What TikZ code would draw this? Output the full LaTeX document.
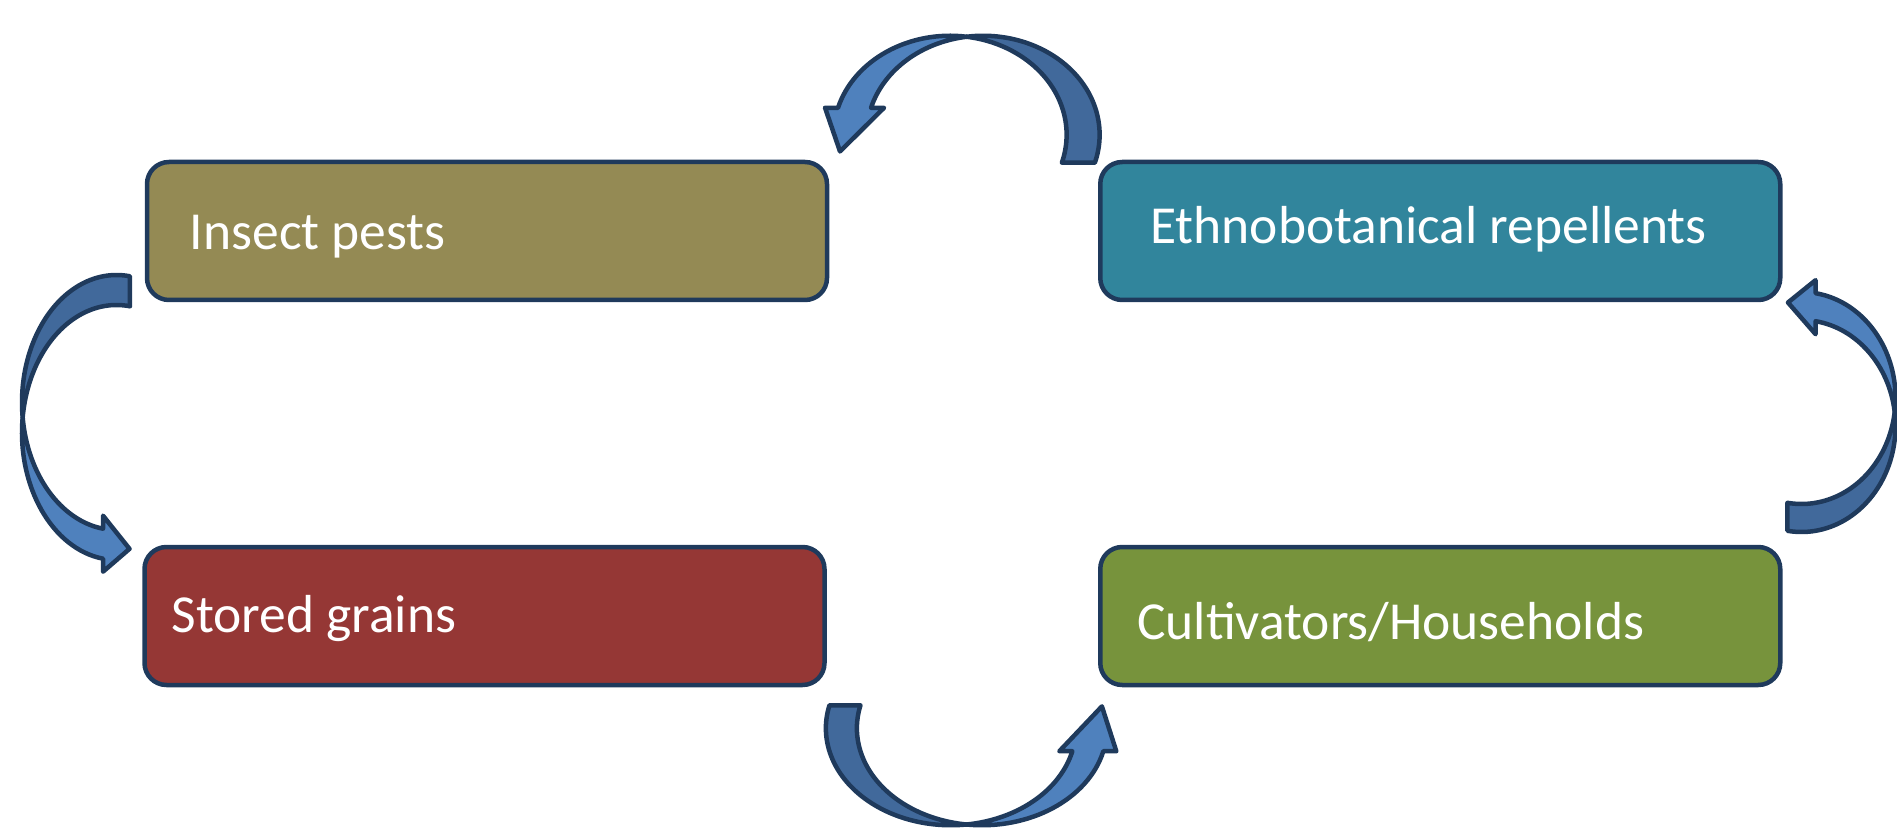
\documentclass[tikz,border=0pt]{standalone}
\usepackage{fontspec}
\setmainfont{Carlito}
\usetikzlibrary{positioning,calc}

\definecolor{ArrowLight}{HTML}{4F81BD}
\definecolor{ArrowDark}{HTML}{41699B}
\definecolor{OutLine}{HTML}{1F3A5C}
\definecolor{PestColour}{HTML}{948A54}
\definecolor{RepelColour}{HTML}{31859C}
\definecolor{GrainColour}{HTML}{953735}
\definecolor{FarmColour}{HTML}{77933C}

% #1 centre, #2 rotation, #3 half span, #4 height, #5 band, #6 tail angle, #7 head angle, #8 head length
\newcommand{\CurvedArrow}[8]{%
  \begin{scope}[shift={#1},rotate=#2]
    \pgfmathsetmacro{\hw}{#5/2}
    \pgfmathsetmacro{\rr}{#3-\hw}
    \pgfmathsetmacro{\tb}{acos(-\hw/\rr)}
    \pgfmathsetmacro{\ta}{180-\tb}
    \pgfmathsetmacro{\yi}{#4*sin(\ta)}
    \pgfmathsetmacro{\hb}{180-#7}
    \pgfmathsetmacro{\ox}{-\hw-\rr*cos(#7)}
    \pgfmathsetmacro{\ix}{\hw-\rr*cos(#7)}
    \pgfmathsetmacro{\hy}{#4*sin(#7)}
    \pgfmathsetmacro{\dx}{-\rr*sin(#7)/100}
    \pgfmathsetmacro{\dy}{-#4*cos(#7)/100}
    \pgfmathsetmacro{\dn}{veclen(\dx,\dy)}
    \pgfmathsetmacro{\tx}{-\rr*cos(#7)+#8*\dx/\dn}
    \pgfmathsetmacro{\ty}{\hy+#8*\dy/\dn}
    \draw[ArrowBack] ({\hw+\rr*cos(#6)},{-#4*sin(#6)})
      arc[start angle=-#6,end angle=\tb,x radius=\rr pt,y radius=#4pt]
      arc[start angle=\ta,end angle=-#6,x radius=\rr pt,y radius=#4pt] -- cycle;
    \draw[ArrowFront] (0,\yi) arc[start angle=\ta,end angle=\hb,x radius=\rr pt,y radius=#4pt]
      -- (\ox-13,\hy) -- (\tx,\ty) -- (\ix+13,\hy) -- (\ix,\hy)
      arc[start angle=\hb,end angle=\tb,x radius=\rr pt,y radius=#4pt] -- cycle;
  \end{scope}}

\begin{document}
\begin{tikzpicture}[x=1pt,y=1pt]
  \tikzset{BoxStyle/.style = {draw=OutLine,line width=4.5pt,rounded corners=22pt,minimum width=680pt,minimum height=138pt,inner sep=0pt},
    LabelStyle/.style = {text=white,font=\fontsize{53.5}{64}\selectfont,inner sep=0pt,anchor=base west},
    ArrowBack/.style = {draw=OutLine,line width=4.5pt,line join=round,fill=ArrowDark},
    ArrowFront/.style = {draw=OutLine,line width=4.5pt,line join=round,fill=ArrowLight}}
\useasboundingbox (0,0) rectangle (1897,828);
\node[BoxStyle,fill=PestColour] (v0) at (487,597) {};
\node[BoxStyle,fill=RepelColour] (v1) at (1440.25,597) {};
\node[BoxStyle,fill=GrainColour] (v2) at (484.5,212) {};
\node[BoxStyle,fill=FarmColour] (v3) at (1440.25,212) {};
%
\node[LabelStyle] (l0) at ([shift={(45,-18.3)}]v0.west) {Insect pests};
\node[LabelStyle] (l1) at ([shift={(52,-12.3)}]v1.west) {Ethnobotanical repellents};
\node[LabelStyle] (l2) at ([shift={(29,-16.7)}]v2.west) {Stored grains};
\node[LabelStyle] (l3) at ([shift={(39,-23.3)}]v3.west) {Cultivators/Households};
%
\CurvedArrow{($(v0.north east)!0.5!(v1.north west)+(3,25)$)}{0}{133}{99}{33}{16.4}{15.8}{46}
\CurvedArrow{($(v2.south east)!0.5!(v3.south west)+(4,-41)$)}{180}{140.5}{97}{31}{13.7}{13.7}{47}
\CurvedArrow{($(v0.south west)!0.5!(v2.north west)+(-27,6)$)}{90}{142.5}{94.5}{30}{8.2}{8.2}{27}
\CurvedArrow{($(v1.south east)!0.5!(v3.north east)+(19,11.5)$)}{-90}{120}{94}{28}{8.6}{8.6}{28}
\end{tikzpicture}
\end{document}
